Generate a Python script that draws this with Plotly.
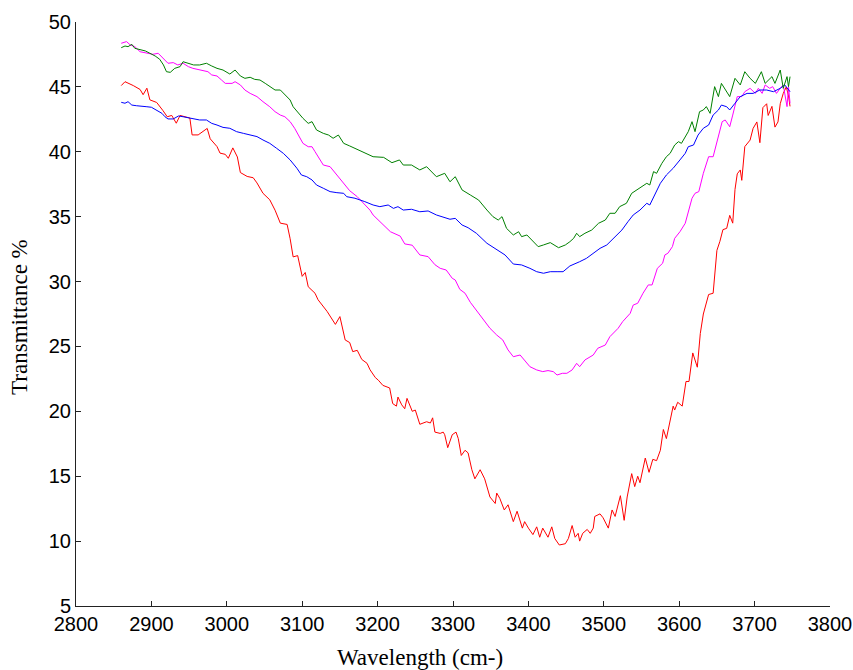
import plotly.graph_objects as go

# ---- data ----
red_wl = [2860, 2865, 2876, 2885, 2889, 2894, 2898, 2907, 2915, 2921, 2927, 2933, 2938, 2945, 2951, 2954,
          2962, 2974, 2978, 2987, 2991, 2998, 3002, 3008, 3014, 3018, 3027, 3035, 3040, 3048, 3057, 3064,
          3071, 3080, 3084, 3088, 3094, 3100, 3104, 3108, 3117, 3121, 3133, 3144, 3150, 3157, 3163, 3167,
          3173, 3179, 3186, 3190, 3197, 3201, 3207, 3216, 3220, 3225, 3227, 3232, 3236, 3239, 3246, 3250,
          3256, 3265, 3270, 3273, 3276, 3283, 3287, 3289, 3293, 3299, 3304, 3307, 3311, 3316, 3320, 3325,
          3329, 3336, 3342, 3349, 3356, 3358, 3362, 3368, 3373, 3380, 3385, 3392, 3395, 3400, 3406, 3411,
          3415, 3419, 3426, 3431, 3435, 3441, 3449, 3453, 3458, 3462, 3466, 3468, 3472, 3478, 3482, 3486,
          3488, 3495, 3499, 3506, 3511, 3515, 3522, 3527, 3531, 3537, 3541, 3545, 3548, 3555, 3560, 3565,
          3570, 3575, 3579, 3583, 3592, 3594, 3598, 3604, 3609, 3613, 3618, 3624, 3628, 3632, 3639, 3645,
          3650, 3654, 3658, 3663, 3667, 3671, 3674, 3677, 3681, 3683, 3687, 3694, 3698, 3703, 3707, 3711,
          3716, 3718, 3723, 3727, 3731, 3734, 3738, 3742, 3745, 3747]
red_t = [45.1, 45.4, 45.1, 44.8, 44.4, 44.9, 44.0, 43.8, 43.2, 42.7, 42.8, 42.2, 42.8, 42.7, 42.6, 41.3,
         41.3, 41.8, 41.0, 40.4, 39.9, 39.8, 39.5, 40.3, 39.6, 38.4, 38.1, 38.0, 37.6, 36.8, 36.3, 35.5,
         34.5, 34.4, 33.3, 31.9, 32.0, 30.4, 30.7, 29.6, 29.1, 28.6, 27.7, 26.7, 27.3, 25.5, 25.3, 24.6,
         24.7, 24.0, 23.7, 23.2, 22.6, 22.4, 22.0, 21.8, 20.6, 20.4, 21.1, 20.5, 20.2, 21.0, 20.0, 20.1,
         19.0, 19.2, 19.1, 19.5, 18.4, 18.3, 18.4, 18.2, 17.2, 18.2, 18.4, 17.9, 16.6, 17.0, 16.8, 15.5,
         14.8, 15.5, 14.8, 13.4, 12.9, 13.7, 13.3, 12.4, 12.8, 11.5, 12.3, 11.0, 11.5, 11.0, 10.5, 11.1,
         10.3, 11.0, 10.3, 11.1, 10.2, 9.7, 9.8, 10.2, 11.2, 10.3, 10.6, 10.0, 10.6, 10.9, 10.6, 11.0,
         11.9, 12.1, 11.8, 11.0, 12.4, 11.9, 13.5, 11.6, 13.4, 15.2, 14.2, 15.0, 14.5, 16.4, 15.3, 16.3,
         16.2, 17.0, 18.6, 17.9, 20.4, 20.1, 20.7, 20.4, 22.3, 22.3, 24.5, 23.4, 26.0, 27.5, 29.0, 29.1,
         32.4, 33.1, 34.0, 34.1, 35.1, 34.5, 37.1, 38.3, 38.6, 37.8, 40.4, 40.9, 41.8, 42.3, 40.7, 43.4,
         43.7, 42.8, 43.5, 41.9, 42.3, 43.7, 44.5, 45.0, 44.3, 43.5]

magenta_wl = [2860, 2867, 2872, 2878, 2885, 2894, 2902, 2909, 2915, 2922, 2929, 2935, 2942, 2949, 2955, 2962,
              2968, 2975, 2980, 2987, 2993, 2998, 3007, 3011, 3018, 3024, 3031, 3040, 3048, 3057, 3064, 3071,
              3077, 3084, 3090, 3095, 3101, 3108, 3113, 3117, 3121, 3128, 3137, 3144, 3150, 3157, 3163, 3173,
              3181, 3190, 3194, 3206, 3217, 3230, 3236, 3246, 3256, 3267, 3276, 3283, 3291, 3299, 3303, 3309,
              3316, 3323, 3332, 3340, 3349, 3358, 3366, 3373, 3380, 3389, 3395, 3402, 3411, 3419, 3426, 3433,
              3438, 3445, 3451, 3458, 3464, 3468, 3475, 3486, 3492, 3502, 3508, 3512, 3519, 3525, 3535, 3539,
              3545, 3552, 3559, 3564, 3571, 3578, 3581, 3585, 3591, 3594, 3601, 3608, 3612, 3617, 3621, 3626,
              3632, 3639, 3645, 3651, 3657, 3661, 3667, 3671, 3677, 3683, 3687, 3694, 3701, 3705, 3710, 3714,
              3720, 3724, 3729, 3734, 3738, 3743, 3745, 3747]
magenta_t = [48.36, 48.49, 48.23, 48.10, 47.71, 47.59, 47.51, 47.59, 47.20, 46.82, 46.87, 46.69, 46.82, 46.56,
             46.43, 46.35, 46.30, 46.17, 45.92, 45.84, 45.53, 45.27, 45.27, 45.40, 45.15, 44.76, 44.50, 44.25,
             43.86, 43.47, 43.09, 42.83, 42.70, 42.32, 41.81, 41.29, 40.65, 40.39, 40.39, 40.01, 39.62, 38.98,
             38.85, 38.34, 37.96, 37.40, 37.00, 36.54, 36.03, 35.50, 35.13, 34.49, 33.84, 33.50, 32.90, 32.80,
             32.05, 31.92, 31.30, 31.02, 30.89, 30.25, 30.12, 29.40, 29.10, 28.40, 27.70, 27.04, 26.40, 25.88,
             25.50, 24.73, 24.21, 24.34, 23.96, 23.44, 23.19, 23.06, 23.14, 23.06, 22.80, 22.93, 22.93, 23.19,
             23.70, 23.44, 23.96, 24.34, 24.86, 25.11, 25.75, 26.01, 26.40, 26.91, 27.55, 28.19, 28.33, 29.10,
             29.74, 29.74, 31.02, 31.41, 32.05, 32.18, 32.69, 33.33, 33.84, 34.49, 35.26, 36.42, 36.80, 36.93,
             38.34, 39.62, 39.62, 41.04, 42.32, 42.45, 41.93, 42.83, 44.25, 44.25, 44.63, 44.89, 44.50, 44.89,
             44.50, 45.15, 44.89, 45.02, 44.50, 44.89, 45.15, 43.48, 45.02, 43.74]

green_wl = [2860, 2865, 2869, 2874, 2878, 2885, 2892, 2898, 2905, 2911, 2916, 2920, 2925, 2931, 2938, 2942,
            2949, 2956, 2964, 2973, 2980, 2987, 2995, 3004, 3011, 3018, 3024, 3031, 3037, 3044, 3051, 3057,
            3064, 3071, 3077, 3084, 3088, 3095, 3101, 3108, 3113, 3119, 3128, 3135, 3141, 3148, 3155, 3163,
            3170, 3179, 3194, 3208, 3219, 3229, 3234, 3245, 3256, 3265, 3278, 3289, 3296, 3303, 3312, 3323,
            3334, 3345, 3353, 3360, 3365, 3371, 3380, 3387, 3391, 3398, 3404, 3413, 3420, 3429, 3440, 3449,
            3455, 3460, 3464, 3468, 3475, 3484, 3493, 3502, 3508, 3515, 3521, 3530, 3537, 3544, 3550, 3557,
            3561, 3566, 3570, 3577, 3583, 3588, 3594, 3599, 3603, 3608, 3612, 3617, 3621, 3627, 3632, 3636,
            3641, 3647, 3652, 3656, 3663, 3667, 3674, 3681, 3687, 3694, 3701, 3709, 3714, 3723, 3727, 3734,
            3738, 3743, 3745, 3747]
green_t = [48.02, 48.15, 48.10, 48.28, 47.97, 47.89, 47.77, 47.59, 47.38, 47.13, 46.69, 46.17, 46.12, 46.43,
           46.56, 46.94, 46.82, 46.69, 46.69, 46.82, 46.61, 46.43, 46.30, 45.99, 46.30, 45.84, 45.66, 45.74,
           45.58, 45.53, 45.27, 45.02, 44.76, 44.76, 44.38, 43.99, 43.47, 42.96, 42.58, 42.19, 42.32, 41.68,
           41.42, 41.29, 41.04, 41.29, 40.65, 40.45, 40.27, 40.01, 39.62, 39.57, 39.16, 39.37, 38.98, 38.98,
           38.60, 38.85, 38.08, 38.34, 37.69, 38.08, 37.06, 36.67, 36.28, 35.51, 35.00, 34.74, 35.00, 34.10,
           33.59, 33.84, 33.46, 33.59, 33.20, 32.69, 32.82, 33.00, 32.61, 32.82, 33.07, 33.33, 33.72, 33.46,
           33.72, 33.97, 34.49, 34.74, 35.26, 35.26, 35.77, 36.03, 36.80, 37.06, 37.31, 37.57, 37.44, 38.47,
           38.34, 39.11, 39.62, 39.88, 40.52, 40.78, 40.65, 41.17, 41.55, 42.32, 41.55, 43.09, 43.22, 43.48,
           42.96, 45.02, 44.25, 45.27, 44.63, 44.25, 45.66, 45.15, 46.17, 45.66, 45.27, 46.17, 45.27, 45.79,
           45.27, 46.30, 44.89, 45.79, 45.02, 45.79]

blue_wl = [2860, 2865, 2869, 2874, 2880, 2887, 2894, 2900, 2907, 2914, 2918, 2922, 2929, 2936, 2942, 2949,
           2956, 2964, 2973, 2980, 2987, 2995, 3004, 3013, 3022, 3031, 3040, 3048, 3057, 3066, 3075, 3084,
           3093, 3099, 3106, 3113, 3119, 3128, 3137, 3146, 3155, 3159, 3170, 3183, 3194, 3203, 3214, 3221,
           3227, 3234, 3245, 3256, 3267, 3278, 3289, 3296, 3303, 3312, 3320, 3331, 3345, 3358, 3369, 3380,
           3391, 3402, 3411, 3420, 3429, 3438, 3446, 3455, 3464, 3468, 3477, 3486, 3495, 3504, 3513, 3524,
           3532, 3539, 3548, 3557, 3561, 3568, 3575, 3583, 3592, 3601, 3608, 3612, 3619, 3625, 3632, 3639,
           3645, 3652, 3656, 3663, 3667, 3674, 3681, 3690, 3698, 3707, 3716, 3725, 3734, 3740, 3745, 3747]
blue_t = [43.81, 43.74, 43.86, 43.60, 43.55, 43.53, 43.47, 43.43, 43.22, 42.96, 42.70, 42.53, 42.53, 42.76,
          42.70, 42.63, 42.58, 42.45, 42.45, 42.19, 42.06, 41.88, 41.81, 41.55, 41.42, 41.29, 41.17, 40.91,
          40.65, 40.27, 39.88, 39.37, 38.73, 38.21, 38.08, 37.83, 37.44, 37.19, 36.93, 36.85, 36.80, 36.54,
          36.42, 36.16, 35.90, 35.77, 35.90, 35.64, 35.77, 35.51, 35.57, 35.38, 35.44, 35.13, 34.92, 34.80,
          34.87, 34.36, 34.15, 33.72, 32.95, 32.43, 32.05, 31.35, 31.28, 31.02, 30.76, 30.64, 30.76, 30.76,
          30.76, 31.20, 31.41, 31.53, 31.79, 32.18, 32.56, 32.82, 33.33, 33.97, 34.61, 35.13, 35.51, 36.03,
          35.90, 36.80, 37.57, 38.21, 38.73, 39.37, 39.88, 40.39, 40.52, 41.29, 41.81, 42.06, 42.83, 43.22,
          43.60, 43.47, 43.22, 43.74, 44.25, 44.50, 44.50, 44.76, 44.76, 44.63, 44.89, 45.15, 44.76, 44.63]

x_ticks = [2800, 2900, 3000, 3100, 3200, 3300, 3400, 3500, 3600, 3700, 3800]
y_ticks = [5, 10, 15, 20, 25, 30, 35, 40, 45, 50]
x_title = "Wavelength (cm-)"
y_title = "Transmittance %"

series = [
    (red_wl, red_t, "#ff0000"),
    (magenta_wl, magenta_t, "#ff00ff"),
    (blue_wl, blue_t, "#0000ff"),
    (green_wl, green_t, "#008000"),
]

fig = go.Figure()
for wl, t, col in series:
    fig.add_trace(go.Scatter(x=wl, y=t, mode="lines",
                             line=dict(color=col, width=1), showlegend=False,
                             hoverinfo="skip"))

axis_common = dict(showgrid=False, zeroline=False, showline=True, linecolor="#222222",
                   linewidth=1, ticks="inside", ticklen=5, tickcolor="#222222", tickwidth=1,
                   mirror=False, automargin=False,
                   tickfont=dict(family="Liberation Sans, Arial, sans-serif", size=20, color="#000000"))

fig.update_layout(
    width=853, height=670,
    margin=dict(l=76, r=23, t=22, b=64, pad=0, autoexpand=False),
    paper_bgcolor="white", plot_bgcolor="white",
    xaxis=dict(range=[2800, 3800], tickvals=x_ticks, ticktext=[str(v) for v in x_ticks], **axis_common),
    yaxis=dict(range=[5, 50], tickvals=y_ticks, ticktext=[str(v) for v in y_ticks], **axis_common),
    annotations=[
        dict(text=x_title, xref="paper", yref="paper", x=0.456, y=-0.089,
             xanchor="center", yanchor="middle", showarrow=False,
             font=dict(family="Liberation Serif, Times New Roman, serif", size=23, color="#000000")),
        dict(text=y_title, xref="paper", yref="paper", x=-0.0743, y=0.495, textangle=-90,
             xanchor="center", yanchor="middle", showarrow=False,
             font=dict(family="Liberation Serif, Times New Roman, serif", size=23, color="#000000")),
    ],
)

# remove the default page margin so the 853x670 figure fills the window exactly
fig.write_html("out.html", config={"displayModeBar": False},
               post_script="document.body.style.margin='0';document.body.style.overflow='hidden';")
